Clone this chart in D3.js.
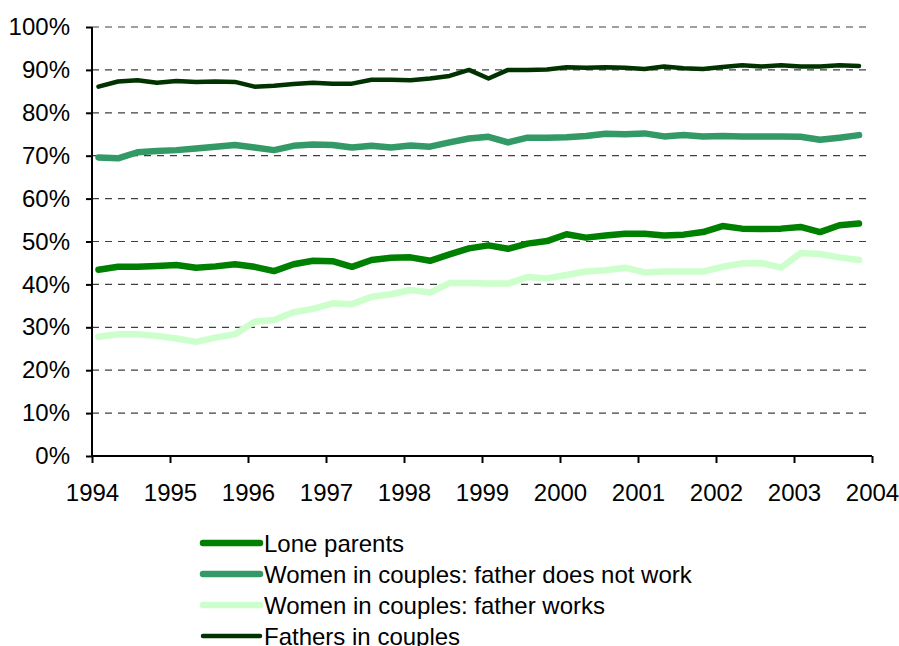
<!DOCTYPE html>
<html>
<head>
<meta charset="utf-8">
<script src="https://cdn.jsdelivr.net/npm/d3@7/dist/d3.min.js"></script>
<style>
  html, body { margin: 0; padding: 0; background: #fff; }
  svg { display: block; font-family: "Liberation Sans", Arial, sans-serif; }
</style>
</head>
<body>
<svg id="chart" width="899" height="646"></svg>
<script>
// Quarterly observations, 1994 Q1 – 2003 Q4
const years = d3.range(1994, 2004);
const quarters = years.flatMap(y => [1, 2, 3, 4].map(q => ({ year: y, q })));

const seriesNames = [
  "Lone parents",
  "Women in couples: father does not work",
  "Women in couples: father works",
  "Fathers in couples"
];
const seriesColors = ["#008000", "#339966", "#CCFFCC", "#003300"];
const seriesWidths = [6.5, 6.5, 6.5, 4.5];

const loneParents = [
  43.4, 44.1, 44.1, 44.3, 44.5, 43.9, 44.2, 44.7, 44.1, 43.1,
  44.7, 45.5, 45.4, 44.1, 45.7, 46.2, 46.3, 45.5, 47.0, 48.4,
  49.1, 48.3, 49.5, 50.1, 51.7, 50.9, 51.4, 51.8, 51.8, 51.4,
  51.6, 52.2, 53.6, 53.0, 52.9, 53.0, 53.4, 52.2, 53.8, 54.2
];
const womenFatherNotWork = [
  69.6, 69.4, 70.8, 71.1, 71.3, 71.7, 72.1, 72.5, 71.9, 71.3,
  72.3, 72.6, 72.5, 71.9, 72.3, 71.9, 72.4, 72.1, 73.1, 74.0,
  74.4, 73.1, 74.2, 74.2, 74.3, 74.6, 75.1, 75.0, 75.2, 74.5,
  74.8, 74.5, 74.6, 74.5, 74.5, 74.5, 74.4, 73.7, 74.2, 74.8
];
const womenFatherWorks = [
  27.8, 28.4, 28.4, 28.0, 27.4, 26.6, 27.6, 28.4, 31.3, 31.7,
  33.5, 34.3, 35.6, 35.4, 37.1, 37.7, 38.7, 38.1, 40.3, 40.3,
  40.2, 40.2, 41.7, 41.4, 42.2, 43.0, 43.3, 43.9, 42.8, 43.0,
  43.0, 43.0, 44.1, 44.9, 45.0, 43.9, 47.3, 47.1, 46.3, 45.7
];
const fathersInCouples = [
  86.1, 87.3, 87.6, 87.0, 87.4, 87.2, 87.3, 87.2, 86.1, 86.3,
  86.7, 87.0, 86.8, 86.8, 87.7, 87.7, 87.6, 88.0, 88.6, 90.0,
  88.0, 90.0, 90.0, 90.1, 90.6, 90.5, 90.6, 90.5, 90.2, 90.8,
  90.4, 90.2, 90.7, 91.1, 90.8, 91.1, 90.8, 90.8, 91.1, 90.9
];
const seriesValues = [loneParents, womenFatherNotWork, womenFatherWorks, fathersInCouples];

const yTicks = d3.range(0, 101, 10);
const xTicks = d3.range(1994, 2005);

// ---- layout ----
const svg = d3.select("#chart");
const plot = { left: 92, right: 872, top: 27, bottom: 456 };

const x = d3.scaleLinear().domain([1994, 2004]).range([plot.left, plot.right]);
const y = d3.scaleLinear().domain([0, 100]).range([plot.bottom, plot.top]);

// time position of each quarterly observation (second month of the quarter)
const tOf = d => d.year + (d.q - 1) / 4 + 1 / 12;

// gridlines
svg.append("g")
  .selectAll("line")
  .data(yTicks.filter(v => v > 0))
  .join("line")
  .attr("x1", plot.left).attr("x2", plot.right)
  .attr("y1", d => y(d)).attr("y2", d => y(d))
  .attr("stroke", "#404040")
  .attr("stroke-width", 1.2)
  .attr("stroke-dasharray", "7,6");

// lines
const line = d3.line()
  .x((v, i) => x(tOf(quarters[i])))
  .y(v => y(v));

const drawOrder = [2, 0, 1, 3];
svg.append("g")
  .selectAll("path")
  .data(drawOrder)
  .join("path")
  .attr("d", k => line(seriesValues[k]))
  .attr("fill", "none")
  .attr("stroke", k => seriesColors[k])
  .attr("stroke-width", k => seriesWidths[k])
  .attr("stroke-linejoin", "round")
  .attr("stroke-linecap", "round");

// axes
const yAxis = d3.axisLeft(y)
  .tickValues(yTicks)
  .tickFormat(d => d + "%")
  .tickSize(6)
  .tickPadding(16);
const gy = svg.append("g").attr("transform", `translate(${plot.left},0)`).call(yAxis);

const xAxis = d3.axisBottom(x)
  .tickValues(xTicks)
  .tickFormat(d3.format("d"))
  .tickSize(7)
  .tickPadding(21);
const gx = svg.append("g").attr("transform", `translate(0,${plot.bottom})`).call(xAxis);

[gy, gx].forEach(g => {
  g.select(".domain").attr("stroke", "#000").attr("stroke-width", 2);
  g.selectAll(".tick line").attr("stroke", "#000").attr("stroke-width", 2);
  g.selectAll(".tick text")
    .attr("fill", "#000")
    .style("font-family", "'Liberation Sans', Arial, sans-serif")
    .style("font-size", "24px");
});
gy.select(".domain").attr("d", `M0,${plot.top}V${plot.bottom}`);
gx.select(".domain").attr("d", `M${plot.left},0H${plot.right}`);

// legend
const legend = svg.append("g").attr("transform", "translate(200,543)");
const rows = legend.selectAll("g")
  .data(seriesNames)
  .join("g")
  .attr("transform", (d, i) => `translate(0,${i * 31})`);
rows.append("line")
  .attr("x1", 3).attr("x2", 60)
  .attr("y1", 0).attr("y2", 0)
  .attr("stroke", (d, i) => seriesColors[i])
  .attr("stroke-width", (d, i) => seriesWidths[i])
  .attr("stroke-linecap", "round");
rows.append("text")
  .attr("x", 64)
  .attr("y", 0)
  .attr("dy", "0.36em")
  .attr("fill", "#000")
  .style("font-size", "24px")
  .text(d => d);
</script>
</body>
</html>
